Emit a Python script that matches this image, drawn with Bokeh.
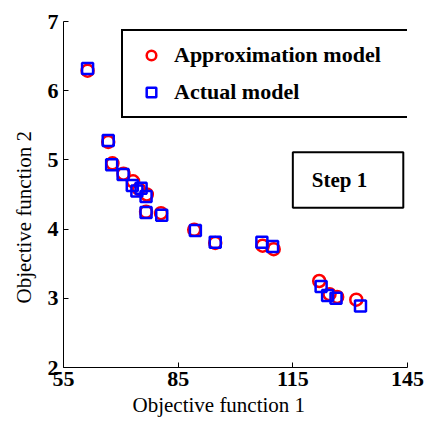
from bokeh.plotting import figure
from bokeh.models import Range1d, Legend, LegendItem, Label, BoxAnnotation, FixedTicker, ColumnDataSource, Title
from bokeh.embed import file_html
from bokeh.resources import INLINE

# Approximation model (circles)
approx_f1 = [61.3, 66.7, 67.8, 70.7, 73.2, 74.7, 76.8, 76.6, 80.5, 89.2, 94.7, 107.1, 110.0, 121.9, 124.6, 126.6, 131.6]
approx_f2 = [6.29, 5.26, 4.95, 4.80, 4.69, 4.58, 4.50, 4.25, 4.23, 3.99, 3.80, 3.76, 3.71, 3.25, 3.06, 3.02, 2.98]

# Actual model (squares)
actual_f1 = [61.3, 66.7, 67.6, 70.6, 73.0, 74.2, 75.3, 76.6, 76.6, 80.7, 89.5, 94.7, 106.9, 109.7, 122.4, 124.1, 126.3, 132.7]
actual_f2 = [6.32, 5.28, 4.93, 4.79, 4.63, 4.55, 4.59, 4.47, 4.24, 4.20, 3.98, 3.81, 3.81, 3.75, 3.17, 3.04, 3.00, 2.89]

x_ticks = [55, 85, 115, 145]
y_ticks = [2, 3, 4, 5, 6, 7]

SERIF = "Liberation Serif"

p = figure(width=425, height=421, output_backend="svg", toolbar_location=None,
           x_range=Range1d(55, 145), y_range=Range1d(2, 7),
           min_border_left=63, min_border_right=18, min_border_top=21, min_border_bottom=54)
p.outline_line_color = None
p.xgrid.visible = False
p.ygrid.visible = False
p.background_fill_color = "white"
p.border_fill_color = "white"

src_a = ColumnDataSource(dict(x=approx_f1, y=approx_f2))
src_b = ColumnDataSource(dict(x=actual_f1, y=actual_f2))
r1 = p.scatter("x", "y", source=src_a, marker="circle", size=12, fill_color=None,
               line_color="#ff0000", line_width=2.5)
r2 = p.scatter("x", "y", source=src_b, marker="square", size=11, fill_color=None,
               line_color="#0000ff", line_width=2.5)

for ax in (p.xaxis[0], p.yaxis[0]):
    ax.major_label_text_font = SERIF
    ax.major_label_text_font_style = "bold"
    ax.major_label_text_font_size = "22px"
    ax.major_label_text_color = "black"
    ax.major_tick_in = 5
    ax.major_tick_out = 0
    ax.minor_tick_in = 0
    ax.minor_tick_out = 0
    ax.axis_line_color = "black"
    ax.major_tick_line_color = "black"

p.xaxis.ticker = FixedTicker(ticks=x_ticks)
p.yaxis.ticker = FixedTicker(ticks=y_ticks)
p.xaxis.major_label_standoff = 4
p.yaxis.major_label_standoff = 5

# axis titles (offset along the axis as in the original)
xt = Title(text="Objective function 1", align="left", offset=69, standoff=4,
           text_font=SERIF, text_font_size="21px", text_font_style="normal", text_color="black")
p.add_layout(xt, "below")
yt = Title(text="Objective function 2", align="left", offset=64, standoff=17,
           text_font=SERIF, text_font_size="21px", text_font_style="normal", text_color="black")
p.add_layout(yt, "left")

legend = Legend(items=[LegendItem(label="Approximation model", renderers=[r1]),
                       LegendItem(label="Actual model", renderers=[r2])],
                location=(58, 249))
legend.label_text_font = SERIF
legend.label_text_font_style = "bold"
legend.label_text_font_size = "22px"
legend.label_text_color = "black"
legend.border_line_color = "black"
legend.border_line_alpha = 1
legend.border_line_width = 2
legend.background_fill_alpha = 1
legend.padding = 11
legend.spacing = 11
legend.glyph_width = 34
legend.glyph_height = 24
legend.label_height = 24
legend.label_standoff = 6
legend.label_width = 224
legend.margin = 0
p.add_layout(legend)

box = BoxAnnotation(left=115.0, right=143.9, top=5.11, bottom=4.31,
                    fill_color=None, fill_alpha=0, line_color="black", line_alpha=1, line_width=2)
p.add_layout(box)
step = Label(x=127.2, y=4.71, text="Step 1", text_font=SERIF, text_font_style="bold",
             text_font_size="21px", text_align="center", text_baseline="middle", text_color="black")
p.add_layout(step)

open("out.html", "w").write(file_html(p, INLINE))
